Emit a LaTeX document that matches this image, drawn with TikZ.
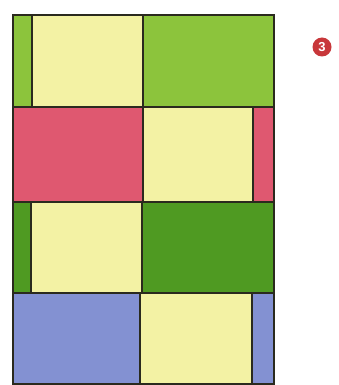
\documentclass[tikz,border=0pt]{standalone}
\usepackage{fontspec}
\setmainfont{Liberation Sans}
\definecolor{cyellow}{HTML}{F3F2A4}
\definecolor{clgreen}{HTML}{8CC43C}
\definecolor{cpink}{HTML}{DF5870}
\definecolor{cdgreen}{HTML}{4F9A22}
\definecolor{cblue}{HTML}{8391D2}
\definecolor{cbadge}{HTML}{C8373A}
\definecolor{cline}{HTML}{2A2A1E}
\begin{document}
\begin{tikzpicture}[x=1pt,y=-1pt,
  cell/.style={draw=cline,line width=1.6pt}]
\useasboundingbox (0,0) rectangle (339,385);
\fill[white] (0,0) rectangle (339,385);
% row 1
\filldraw[cell,fill=clgreen] (13,15) rectangle (32,107);
\filldraw[cell,fill=cyellow] (32,15) rectangle (143,107);
\filldraw[cell,fill=clgreen] (143,15) rectangle (274,107);
% row 2
\filldraw[cell,fill=cpink] (13,107) rectangle (143,202);
\filldraw[cell,fill=cyellow] (143,107) rectangle (253,202);
\filldraw[cell,fill=cpink] (253,107) rectangle (274,202);
% row 3
\filldraw[cell,fill=cdgreen] (13,202) rectangle (31,293);
\filldraw[cell,fill=cyellow] (31,202) rectangle (142,293);
\filldraw[cell,fill=cdgreen] (142,202) rectangle (274,293);
% row 4
\filldraw[cell,fill=cblue] (13,293) rectangle (140,384);
\filldraw[cell,fill=cyellow] (140,293) rectangle (252,384);
\filldraw[cell,fill=cblue] (252,293) rectangle (274,384);
% badge
\node[circle,fill=cbadge,inner sep=0pt,minimum size=19pt,text=white,font=\bfseries\fontsize{13}{13}\selectfont] (badge) at (322,47) {3};
\end{tikzpicture}
\end{document}
